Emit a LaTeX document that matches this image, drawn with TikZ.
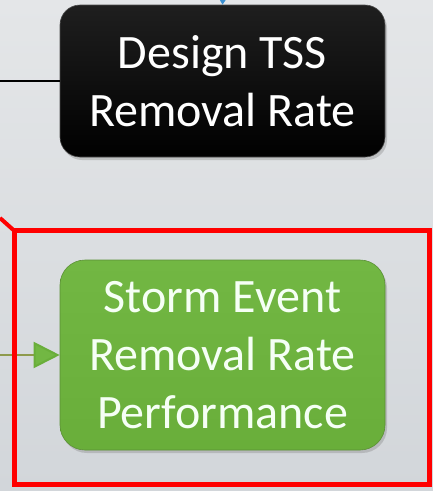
\documentclass[tikz,border=0pt]{standalone}
\usepackage{fontspec}
\setmainfont{Carlito}
\usetikzlibrary{arrows.meta,shadows}
\definecolor{bgtop}{HTML}{E4E6E8}
\definecolor{bgbot}{HTML}{D2D6DA}
\definecolor{boxgreen}{HTML}{69AE3A}
\definecolor{boxgreenlt}{HTML}{72B743}
\definecolor{greenedge}{HTML}{5A8F35}
\definecolor{arrline}{HTML}{8E9A4C}
\definecolor{framered}{HTML}{FF0000}
\definecolor{tipblue}{HTML}{3A8FD0}
\begin{document}
\begin{tikzpicture}[x=1pt,y=-1pt,
  boxtext/.style={align=center,font=\fontsize{48}{58}\selectfont},
  blackbox/.style={boxtext,text=white,rounded corners=20pt,minimum width=325pt,minimum height=152pt,
    top color=black!88,bottom color=black,draw=black!70,line width=0.6pt,
    drop shadow={shadow xshift=2pt,shadow yshift=-3pt,opacity=0.35}},
  greenbox/.style={boxtext,text=white!96!green,rounded corners=25pt,minimum width=325pt,minimum height=190pt,
    top color=boxgreenlt,bottom color=boxgreen,draw=greenedge,line width=0.6pt,
    drop shadow={shadow xshift=2pt,shadow yshift=-3pt,opacity=0.35}},
  redframe/.style={draw=framered,line width=5pt},
  inlink/.style={line width=2.5pt}
]
\useasboundingbox (0,0) rectangle (433,491);
\shade[top color=bgtop,bottom color=bgbot] (0,0) rectangle (433,491);

\node[blackbox] (design) at (222.5,81) {Design TSS\\Removal Rate};
\node[greenbox] (storm) at (222.5,355) {Storm Event\\Removal Rate\\Performance};

\coordinate (blackin) at (0,81);
\coordinate (greenin) at (0,355);
\coordinate (bluein) at (223,-6);
\coordinate (redin) at (0,218);
\coordinate (redcorner) at (14,230.5);

\draw[inlink,black] (blackin) -- (design.west);
\draw[line width=1.5pt,tipblue,-{Triangle[length=6pt,width=7pt]}] (bluein) -- (design.north);
\draw[line width=2pt,arrline,-{Triangle[length=26pt,width=26pt,fill=boxgreenlt,color=boxgreen]}] (greenin) -- (storm.west);

\draw[framered,line width=4pt] (redin) -- (redcorner);
\draw[redframe] (redcorner) rectangle (429.5,484);
\end{tikzpicture}
\end{document}
